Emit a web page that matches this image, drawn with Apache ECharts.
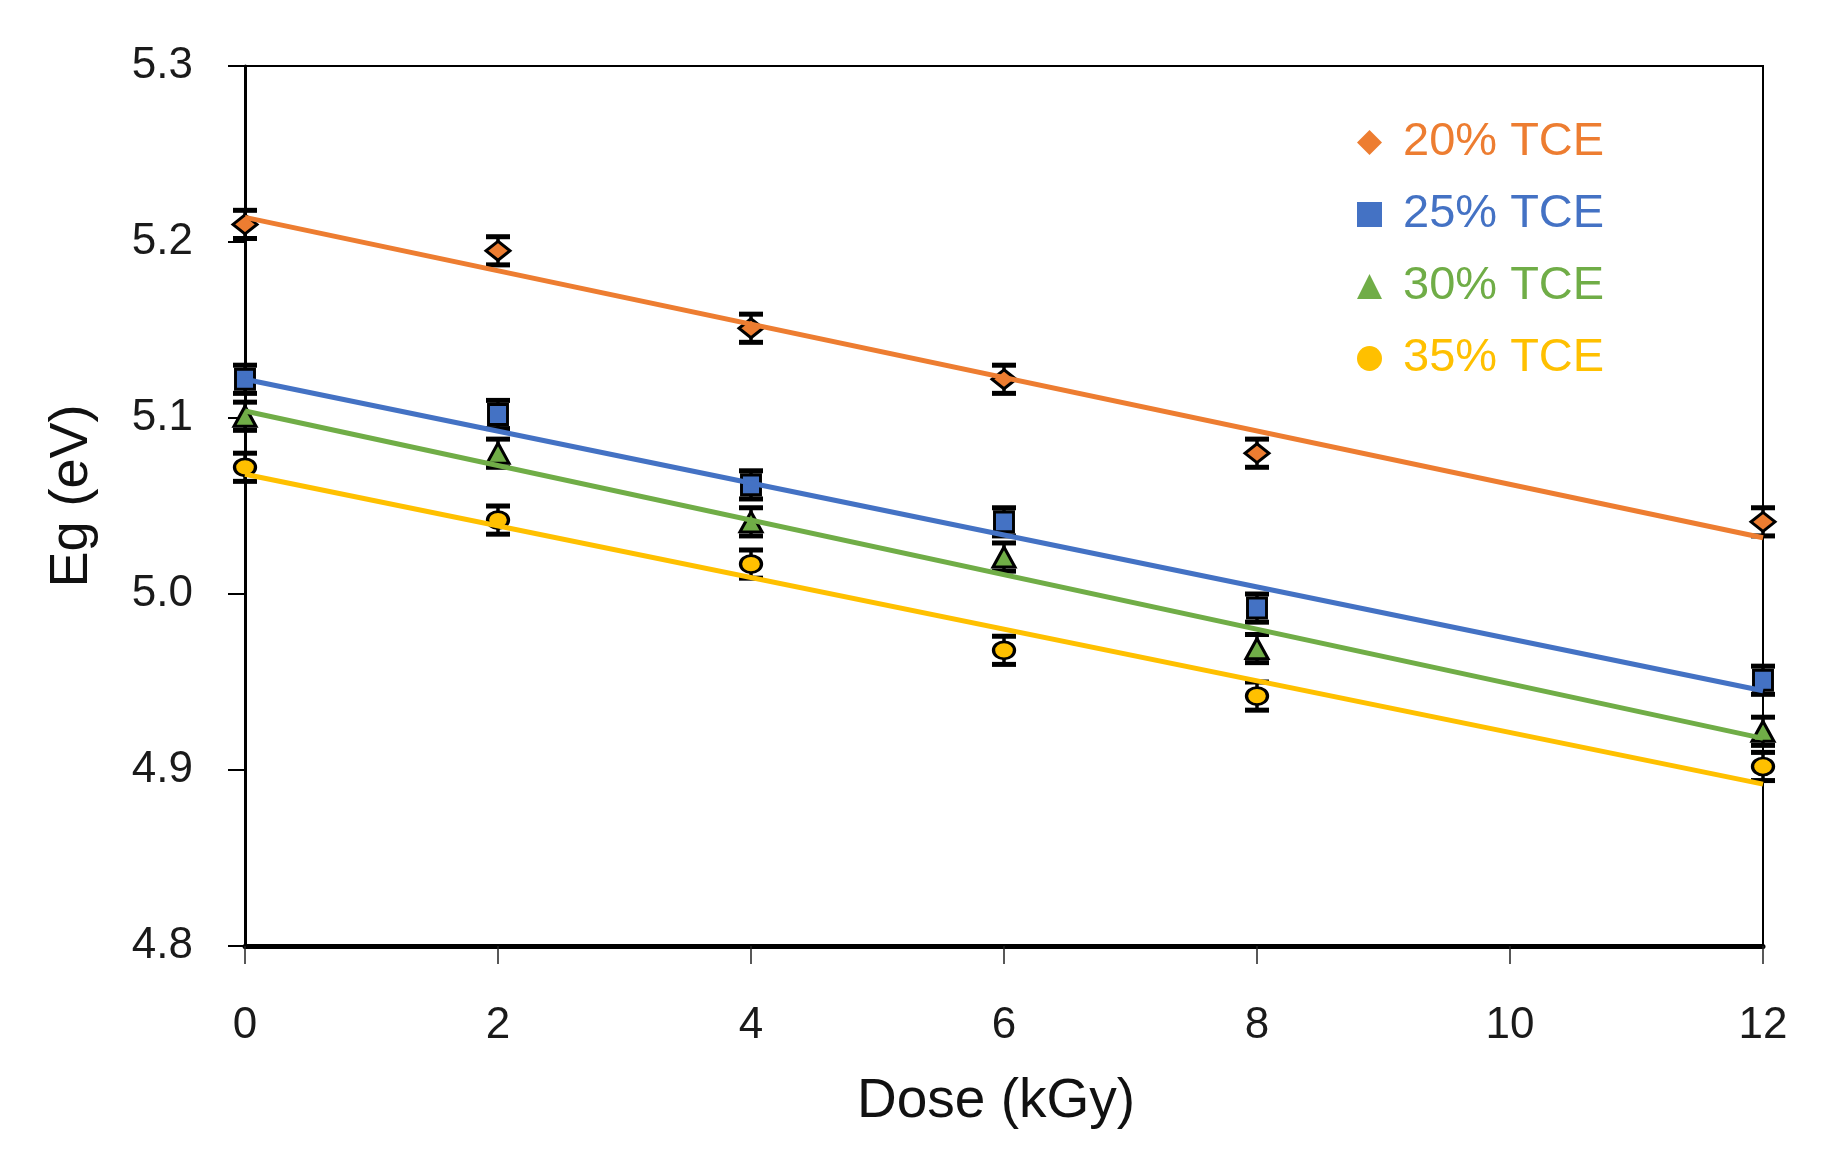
<!DOCTYPE html>
<html>
<head>
<meta charset="utf-8">
<script src="https://cdn.jsdelivr.net/npm/echarts@6/dist/echarts.min.js"></script>
<style>
html,body{margin:0;padding:0;background:#fff;}
#chart{width:1822px;height:1165px;}
</style>
</head>
<body>
<div id="chart"></div>
<script>
// ---- data ----
const doses = [0, 2, 4, 6, 8, 12];
const seriesNames = ['20% TCE', '25% TCE', '30% TCE', '35% TCE'];
const eg20 = [5.210, 5.195, 5.151, 5.122, 5.080, 5.041];
const eg25 = [5.122, 5.102, 5.062, 5.041, 4.992, 4.951];
const eg30 = [5.101, 5.080, 5.041, 5.021, 4.969, 4.922];
const eg35 = [5.072, 5.042, 5.017, 4.968, 4.942, 4.902];
const errors = [0.008, 0.008, 0.008, 0.008];
// linear trendline end points (dose 0 and dose 12)
const trendDose = [0, 12];
const trendStart = [5.214, 5.122, 5.104, 5.068];
const trendEnd = [5.032, 4.945, 4.918, 4.892];
const yTicks = [4.8, 4.9, 5.0, 5.1, 5.2, 5.3];
const xTicks = [0, 2, 4, 6, 8, 10, 12];

// ---- styles ----
const colors = ['#ED7D31', '#4472C4', '#70AD47', '#FFC000'];
const symbols = ['diamond', 'rect', 'triangle', 'circle'];
const symbolSizes = [[24, 19], [19, 20], [22, 20], [21, 17]];
const FONT = 'Liberation Sans, Arial, Helvetica, sans-serif';

const allValues = [eg20, eg25, eg30, eg35];

function errRender(params, api) {
  const x = api.value(0), lo = api.value(1), hi = api.value(2);
  const pLo = api.coord([x, lo]);
  const pHi = api.coord([x, hi]);
  const hw = 12;
  const style = { stroke: '#000', lineWidth: 3.5 };
  return {
    type: 'group',
    children: [
      { type: 'line', shape: { x1: pLo[0], y1: pLo[1], x2: pHi[0], y2: pHi[1] }, style: style },
      { type: 'line', shape: { x1: pLo[0] - hw, y1: pLo[1], x2: pLo[0] + hw, y2: pLo[1] }, style: { stroke: '#000', lineWidth: 5 } },
      { type: 'line', shape: { x1: pHi[0] - hw, y1: pHi[1], x2: pHi[0] + hw, y2: pHi[1] }, style: { stroke: '#000', lineWidth: 5 } }
    ]
  };
}

const series = [];
seriesNames.forEach(function (name, i) {
  const vals = allValues[i];
  series.push({
    type: 'custom',
    name: name + ' err',
    renderItem: errRender,
    data: doses.map(function (d, j) { return [d, vals[j] - errors[i], vals[j] + errors[i]]; }),
    z: 3,
    silent: true
  });
});
seriesNames.forEach(function (name, i) {
  const vals = allValues[i];
  series.push({
    type: 'scatter',
    name: name,
    symbol: symbols[i],
    symbolSize: symbolSizes[i],
    itemStyle: { color: colors[i], borderColor: '#000', borderWidth: 3, opacity: 1 },
    data: doses.map(function (d, j) { return [d, vals[j]]; }),
    z: 4
  });
});
seriesNames.forEach(function (name, i) {
  series.push({
    type: 'line',
    name: name + ' trend',
    data: [[trendDose[0], trendStart[i]], [trendDose[1], trendEnd[i]]],
    showSymbol: false,
    symbol: 'none',
    lineStyle: { color: colors[i], width: 5 },
    z: 5,
    silent: true
  });
});

const chart = echarts.init(document.getElementById('chart'), null, { renderer: 'canvas' });
chart.setOption({
  animation: false,
  backgroundColor: '#fff',
  textStyle: { fontFamily: FONT },
  grid: {
    left: 245, right: 59, top: 66, bottom: 219,
    show: true, borderColor: '#000', borderWidth: 2, backgroundColor: 'transparent'
  },
  legend: {
    orient: 'vertical',
    left: 1352,
    top: 114,
    itemWidth: 25,
    itemHeight: 25,
    itemGap: 25,
    selectedMode: false,
    data: seriesNames.map(function (n, i) {
      return {
        name: n,
        icon: symbols[i],
        itemStyle: { color: colors[i], borderWidth: 0 },
        textStyle: { color: colors[i], fontSize: 47, fontFamily: FONT, lineHeight: 47, padding: [0, 0, 0, 16] }
      };
    })
  },
  xAxis: {
    type: 'value',
    min: xTicks[0], max: xTicks[xTicks.length - 1], interval: 2,
    name: 'Dose (kGy)',
    nameLocation: 'middle',
    nameGap: 128,
    nameTextStyle: { fontSize: 55, color: '#111', fontFamily: FONT, padding: [0, 16, 0, 0] },
    axisLine: { show: true, lineStyle: { color: '#000', width: 5 } },
    axisTick: { show: true, inside: false, length: 18, lineStyle: { color: '#222', width: 1.5 } },
    axisLabel: { fontSize: 44, color: '#1a1a1a', margin: 58, fontFamily: FONT },
    splitLine: { show: false }
  },
  yAxis: {
    type: 'value',
    min: yTicks[0], max: yTicks[yTicks.length - 1], interval: 0.1,
    name: 'Eg (eV)',
    nameLocation: 'middle',
    nameGap: 146,
    nameTextStyle: { fontSize: 54, color: '#111', fontFamily: FONT, padding: [0, 0, 0, 20] },
    axisLine: { show: true, lineStyle: { color: '#000', width: 3 } },
    axisTick: { show: true, inside: false, length: 17, lineStyle: { color: '#000', width: 2 } },
    axisLabel: {
      fontSize: 44, color: '#1a1a1a', margin: 52, fontFamily: FONT,
      formatter: function (v) { return v.toFixed(1); }
    },
    splitLine: { show: false }
  },
  series: series
});
</script>
</body>
</html>
